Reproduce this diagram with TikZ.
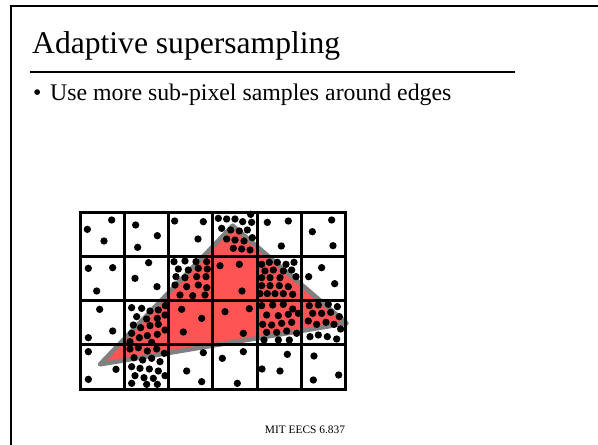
\documentclass[tikz,border=0pt]{standalone}
\usepackage{fontspec}
\setmainfont{Liberation Serif}
\definecolor{trired}{RGB}{255,84,84}
\definecolor{triedge}{RGB}{128,128,128}
\tikzset{
  frameline/.style={line width=2pt, line cap=rect},
  gridline/.style={line width=3pt, line cap=rect},
  tri/.style={fill=trired, draw=triedge, line width=4.5pt, line join=round},
  sample/.style={fill=black}
}
\begin{document}
\begin{tikzpicture}[x=1pt,y=-1pt]
\useasboundingbox (0,0) rectangle (598,445);
\fill[white] (0,0) rectangle (598,445);
% slide frame
\draw[frameline] (11,446) -- (11,5.5) -- (599,5.5);
% title
\node[anchor=base west, inner sep=0, font=\fontsize{31.6}{36}\selectfont] (title) at (32,53) {Adaptive supersampling};
\coordinate (ruleL) at (30,71.7);
\coordinate (ruleR) at (515,71.7);
\draw[line width=2pt] (ruleL) -- (ruleR);
% bullet
\node[anchor=base west, inner sep=0, font=\fontsize{23.8}{28}\selectfont] (dot) at (33,100) {\textbullet};
\node[anchor=base west, inner sep=0, font=\fontsize{23.8}{28}\selectfont] (item) at (50,100) {Use more sub-pixel samples around edges};
% footer
\node[anchor=base, inner sep=0, font=\fontsize{11.4}{13}\selectfont] (foot) at (305,433) {MIT EECS 6.837};
% pixel grid diagram
\begin{scope}[shift={(70,205)}, scale=1/3]
  \draw[tri] (90,478) -- (488,62) -- (830,355) -- cycle;
  \foreach \i in {0,...,6} {\draw[gridline] (30+133*\i,22) -- (30+133*\i,552);}
  \foreach \j in {0,...,4} {\draw[gridline] (30,22+132.5*\j) -- (828,22+132.5*\j);}
  \foreach \p in {
    (125,45),(52,73),(102,108),
    (197,60),(262,92),(203,127),
    (314,48),(400,50),(384,102),
    (592,52),(655,48),(634,123),
    (785,45),(727,80),(789,122),
    (55,190),(128,188),(80,258),
    (236,173),(195,220),(261,245),
    (450,182),(508,178),(516,258),
    (755,188),(716,215),(794,236),
    (89,313),(128,378),(55,398),
    (335,313),(395,340),(340,381),
    (465,320),(538,311),(520,385),
    (55,440),(138,493),(55,523),
    (400,443),(350,498),(395,530),
    (457,460),(520,440),(502,535),
    (652,448),(576,492),(630,498),
    (732,453),(806,510),(730,525),
    % dense cell (3,0)
    (445,40),(470,42),(495,42),(518,50),(542,28),(545,52),(455,70),(482,75),(508,78),(532,75),
    (470,102),(495,105),(522,108),(547,98),(490,130),(515,132),(540,135),
    % dense cell (2,1)
    (312,170),(345,168),(378,170),(410,170),(325,192),(355,195),(385,190),(412,192),(318,215),(345,218),
    (380,215),(408,215),(315,240),(350,245),(385,240),(410,248),(330,270),(368,272),(405,270),
    % dense cell (4,1)
    (575,178),(598,172),(622,172),(648,178),(672,172),(585,198),(610,195),(640,198),(665,195),(575,218),
    (600,218),(630,218),(678,215),(575,242),(600,242),(628,242),(655,245),(570,266),(592,266),(615,266),
    (640,266),(668,268),
    % dense cell (1,2)
    (185,308),(215,310),(240,318),(265,315),(286,302),(200,335),(230,342),(262,340),(285,330),(190,360),
    (212,368),(240,362),(265,358),(285,375),(185,385),(208,398),(232,392),(262,388),(180,410),(245,412),
    % dense cell (1,3)
    (180,432),(205,428),(232,438),(260,432),(283,445),(192,458),(218,465),(245,460),(270,470),(185,485),
    (210,490),(238,492),(265,498),(285,512),(195,512),(222,518),(250,520),(185,535),(230,538),(262,538),
    % dense cell (4,2)
    (575,302),(608,300),(640,298),(668,312),(590,330),(625,332),(655,328),(685,325),(578,358),(605,360),
    (635,355),(665,352),(590,382),(620,382),(650,378),(680,385),(582,405),(625,405),(658,405),
    % dense cell (5,2)
    (718,302),(745,300),(775,298),(802,305),(728,325),(755,325),(782,322),(808,335),(715,348),(740,358),
    (768,352),(792,358),(812,372),(720,395),(745,390),(772,395),(800,402)
  } {\fill[sample] \p circle[radius=11];}
\end{scope}
\end{tikzpicture}
\end{document}
